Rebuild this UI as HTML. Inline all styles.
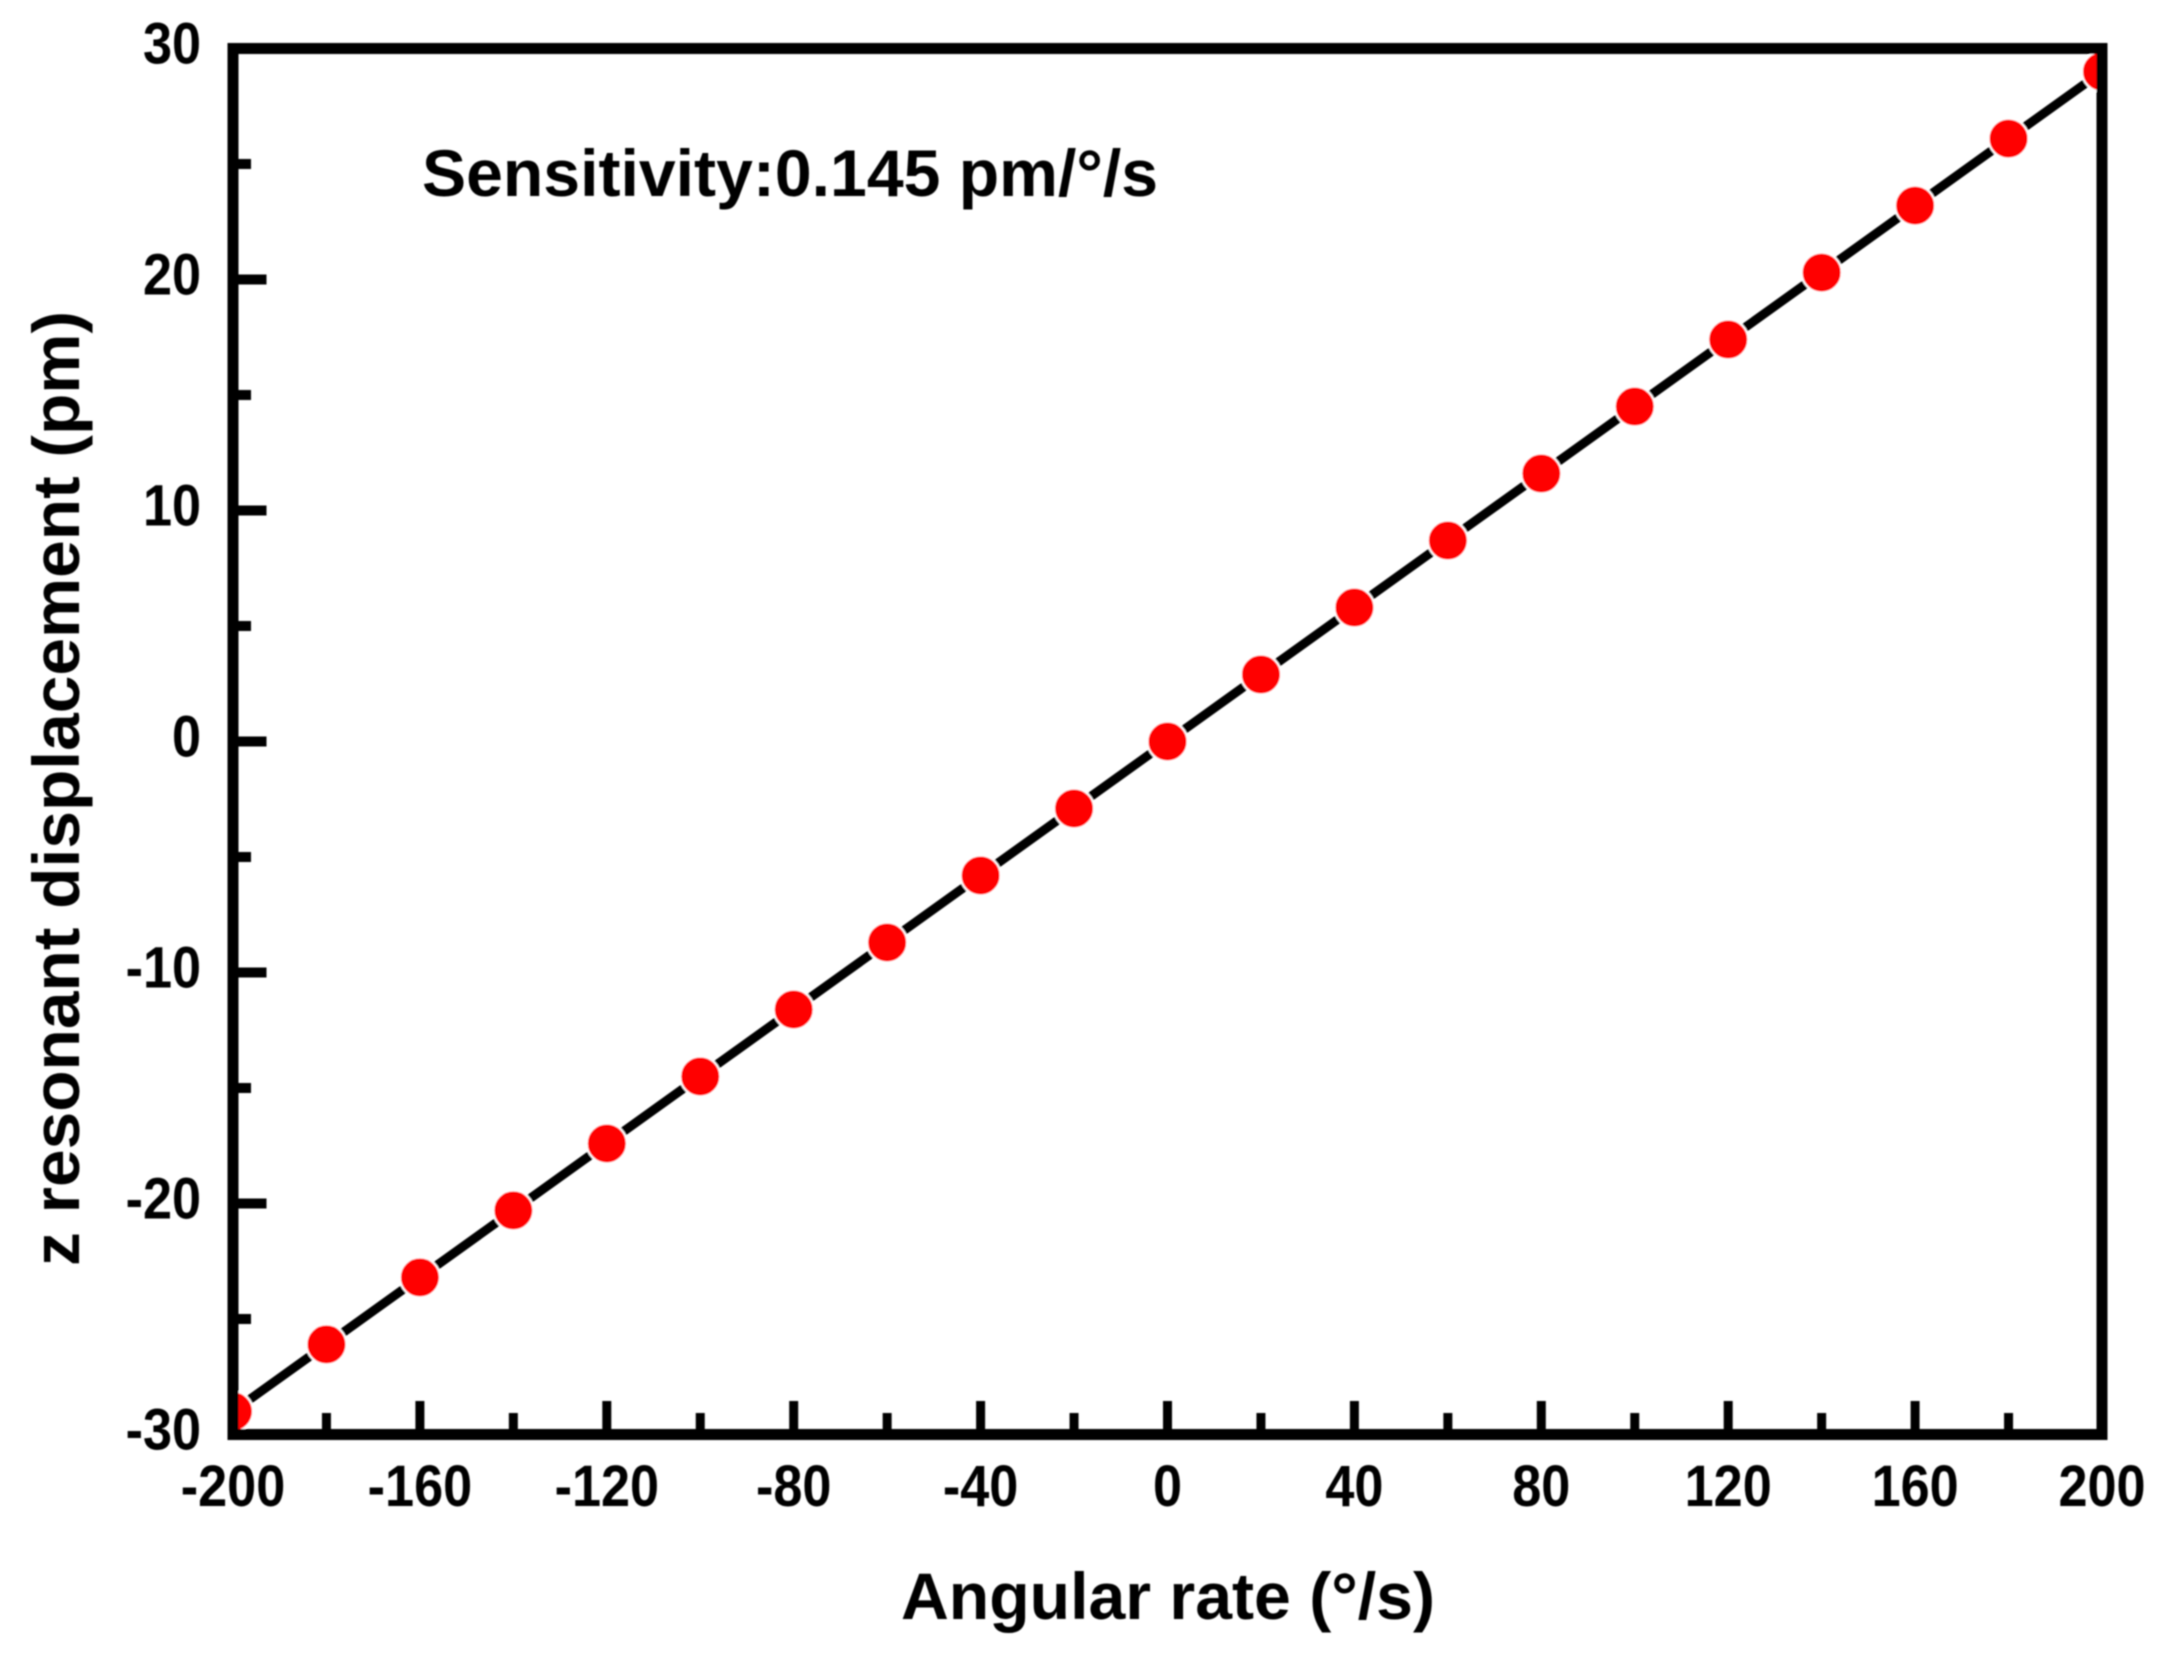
<!DOCTYPE html>
<html>
<head>
<meta charset="utf-8">
<title>z resonant displacement vs angular rate</title>
<style>
html,body{margin:0;padding:0;background:#fff;width:2163px;height:1661px;overflow:hidden}
svg{display:block}
text{font-family:"Liberation Sans",sans-serif;font-weight:bold;fill:#050505}
</style>
</head>
<body>
<svg id="chart" xmlns="http://www.w3.org/2000/svg" width="2163" height="1661" viewBox="0 0 2163 1661">
<defs>
<filter id="soft" x="-5%" y="-5%" width="110%" height="110%"><feGaussianBlur stdDeviation="0.9"/></filter>
<clipPath id="plot-clip"><rect x="233" y="48.5" width="1869" height="1386"/></clipPath>
</defs>
<rect x="0" y="0" width="2163" height="1661" fill="#ffffff"/>
<g id="root" filter="url(#soft)">
<g id="series" clip-path="url(#plot-clip)"></g>
<g id="axes"></g>
<rect x="233" y="48.5" width="1869" height="1386" fill="none" stroke="#030303" stroke-width="11"/>
<g id="labels"></g>
<text x="422" y="196" font-size="66" textLength="736" lengthAdjust="spacingAndGlyphs">Sensitivity:0.145 pm/°/s</text>
<text x="901" y="1619" font-size="66" textLength="534" lengthAdjust="spacingAndGlyphs">Angular rate (°/s)</text>
<text transform="translate(79,1266) rotate(-90)" x="0" y="0" font-size="66" textLength="955" lengthAdjust="spacingAndGlyphs">z resonant displacement (pm)</text>
</g>
</svg>
<script>
const rates = [-200,-180,-160,-140,-120,-100,-80,-60,-40,-20,0,20,40,60,80,100,120,140,160,180,200];
const displacements = [-29,-26.1,-23.2,-20.3,-17.4,-14.5,-11.6,-8.7,-5.8,-2.9,0,2.9,5.8,8.7,11.6,14.5,17.4,20.3,23.2,26.1,29];
const xMajorTicks = [-200,-160,-120,-80,-40,0,40,80,120,160,200];
const xMinorTicks = [-180,-140,-100,-60,-20,20,60,100,140,180];
const yMajorTicks = [-30,-20,-10,0,10,20,30];
const yMinorTicks = [-25,-15,-5,5,15,25];

const NS = 'http://www.w3.org/2000/svg';
const plot = {left:233, right:2102, top:48.5, bottom:1434.5};
const sx = v => plot.left + (v + 200) / 400 * (plot.right - plot.left);
const sy = v => plot.bottom - (v + 30) / 60 * (plot.bottom - plot.top);
const seriesG = document.getElementById('series');
const axesG = document.getElementById('axes');
const labelsG = document.getElementById('labels');

const line = document.createElementNS(NS, 'polyline');


line.setAttribute('points', rates.map((r, i) => sx(r) + ',' + sy(displacements[i])).join(' '));
line.setAttribute('fill', 'none');
line.setAttribute('stroke', '#000000');
line.setAttribute('stroke-width', '9');
seriesG.appendChild(line);

rates.forEach((r, i) => {
  const dot = document.createElementNS(NS, 'circle');
  
  
  dot.setAttribute('cx', sx(r));
  dot.setAttribute('cy', sy(displacements[i]));
  dot.setAttribute('r', '20');
  dot.setAttribute('fill', '#ff0000');
  dot.setAttribute('stroke', '#ffffff');
  dot.setAttribute('stroke-width', '2');
  seriesG.appendChild(dot);
});

function drawXTick(v, top, name) {
  const t = document.createElementNS(NS, 'rect');
  
  
  t.setAttribute('x', sx(v) - 4.5);
  t.setAttribute('y', top);
  t.setAttribute('width', '9');
  t.setAttribute('height', plot.bottom - top);
  t.setAttribute('fill', '#050505');
  axesG.appendChild(t);
}
function drawYTick(v, right, name) {
  const t = document.createElementNS(NS, 'rect');
  
  
  t.setAttribute('x', plot.left);
  t.setAttribute('y', sy(v) - 5);
  t.setAttribute('width', right - plot.left);
  t.setAttribute('height', '10');
  t.setAttribute('fill', '#050505');
  axesG.appendChild(t);
}
xMajorTicks.forEach(v => drawXTick(v, 1401, 'x-major-tick'));
xMinorTicks.forEach(v => drawXTick(v, 1413, 'x-minor-tick'));
yMajorTicks.forEach(v => drawYTick(v, 266.5, 'y-major-tick'));
yMinorTicks.forEach(v => drawYTick(v, 251, 'y-minor-tick'));

xMajorTicks.forEach(v => {
  const t = document.createElementNS(NS, 'text');
  
  
  t.setAttribute('transform', 'translate(' + sx(v) + ',1506) scale(0.9,1)');
  t.setAttribute('text-anchor', 'middle');
  t.setAttribute('font-size', '58');
  t.textContent = String(v);
  labelsG.appendChild(t);
});
yMajorTicks.forEach(v => {
  const t = document.createElementNS(NS, 'text');
  
  
  t.setAttribute('transform', 'translate(201,' + (sy(v) + 15) + ') scale(0.9,1)');
  t.setAttribute('text-anchor', 'end');
  t.setAttribute('font-size', '58');
  t.textContent = String(v);
  labelsG.appendChild(t);
});
</script>
</body>
</html>
